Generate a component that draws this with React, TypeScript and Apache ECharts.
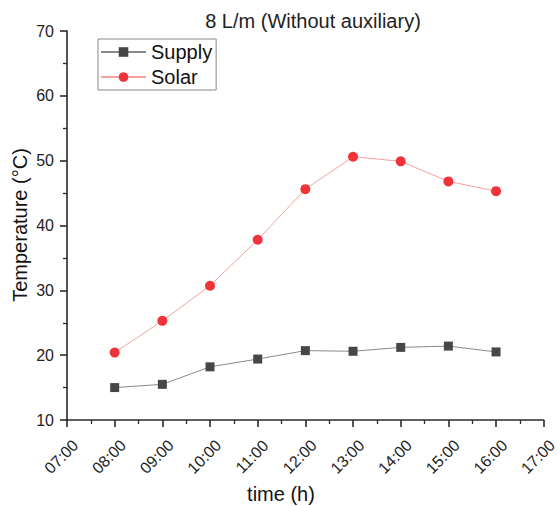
import React, { useEffect, useRef } from "react";
import * as echarts from "echarts";

const hours = [8, 9, 10, 11, 12, 13, 14, 15, 16];
const supply = [15.0, 15.5, 18.2, 19.4, 20.7, 20.6, 21.2, 21.4, 20.5];
const solar = [20.4, 25.3, 30.7, 37.8, 45.6, 50.6, 49.9, 46.8, 45.3];
const titleText = "8 L/m (Without auxiliary)";
const xName = "time (h)";
const yName = "Temperature (°C)";

const fmtHour = (v: number) => (v < 10 ? "0" + v : "" + v) + ":00";

export default function App() {
  const ref = useRef<HTMLDivElement>(null);
  useEffect(() => {
    if (!ref.current) return;
    const chart = echarts.init(ref.current, null, { renderer: "svg" });
    const font = "Liberation Sans, Arial, sans-serif";
    chart.setOption({
      animation: false,
      textStyle: { fontFamily: font },
      title: {
        text: titleText,
        left: 308,
        top: 6,
        textAlign: "center",
        textStyle: { fontSize: 20, fontWeight: "normal", color: "#222", fontFamily: font },
      },
      legend: {
        orient: "vertical",
        left: 98,
        top: 39,
        padding: [3, 4, 3, 2],
        itemGap: 5,
        itemWidth: 45,
        itemHeight: 12,
        borderColor: "#888",
        borderWidth: 1,
        borderRadius: 0,
        textStyle: { fontSize: 20, color: "#111", fontFamily: font },
        data: ["Supply", "Solar"],
      },
      graphic: [
        {
          type: "text",
          x: 281,
          y: 494,
          style: {
            text: xName,
            fontSize: 20,
            fill: "#111",
            fontFamily: font,
            align: "center",
            verticalAlign: "middle",
          },
        },
        {
          type: "text",
          x: 20,
          y: 225,
          rotation: Math.PI / 2,
          style: {
            text: yName,
            fontSize: 20,
            fill: "#111",
            fontFamily: font,
            align: "center",
            verticalAlign: "middle",
          },
        },
      ],
      grid: { left: 67, right: 11, top: 31, bottom: 86, containLabel: false },
      xAxis: {
        type: "value",
        min: 7,
        max: 17,
        interval: 1,
        axisLine: { show: true, onZero: false, lineStyle: { color: "#2a2a2a", width: 1.6 } },
        axisTick: { show: true, inside: false, length: 7, lineStyle: { color: "#2a2a2a", width: 1.6 } },
        minorTick: { show: true, splitNumber: 2, length: 4, lineStyle: { color: "#2a2a2a", width: 1.3 } },
        splitLine: { show: false },
        axisLabel: {
          rotate: 45,
          fontSize: 16,
          color: "#222",
          margin: 31,
          align: "center",
          verticalAlign: "middle",
          padding: [0, 16, 0, 0],
          fontFamily: font,
          formatter: (v: number) => fmtHour(v),
        },
      },
      yAxis: {
        type: "value",
        min: 10,
        max: 70,
        interval: 10,
        axisLine: { show: true, onZero: false, lineStyle: { color: "#2a2a2a", width: 1.6 } },
        axisTick: { show: true, inside: false, length: 7, lineStyle: { color: "#2a2a2a", width: 1.6 } },
        minorTick: { show: true, splitNumber: 2, length: 4, lineStyle: { color: "#2a2a2a", width: 1.3 } },
        splitLine: { show: false },
        axisLabel: { fontSize: 16, color: "#222", margin: 13, fontFamily: font },
      },
      series: [
        {
          name: "Supply",
          type: "line",
          data: hours.map((h, i) => [h, supply[i]]),
          symbol: "rect",
          symbolSize: 9,
          itemStyle: { color: "#474747" },
          lineStyle: { color: "#8a8a8a", width: 1 },
        },
        {
          name: "Solar",
          type: "line",
          data: hours.map((h, i) => [h, solar[i]]),
          symbol: "circle",
          symbolSize: 10,
          itemStyle: { color: "#f0323a" },
          lineStyle: { color: "#f7a0a0", width: 1 },
        },
      ],
    });
    return () => chart.dispose();
  }, []);
  return (
    <div
      ref={ref}
      style={{ position: "absolute", left: 0, top: 0, width: 560, height: 506 }}
    />
  );
}
